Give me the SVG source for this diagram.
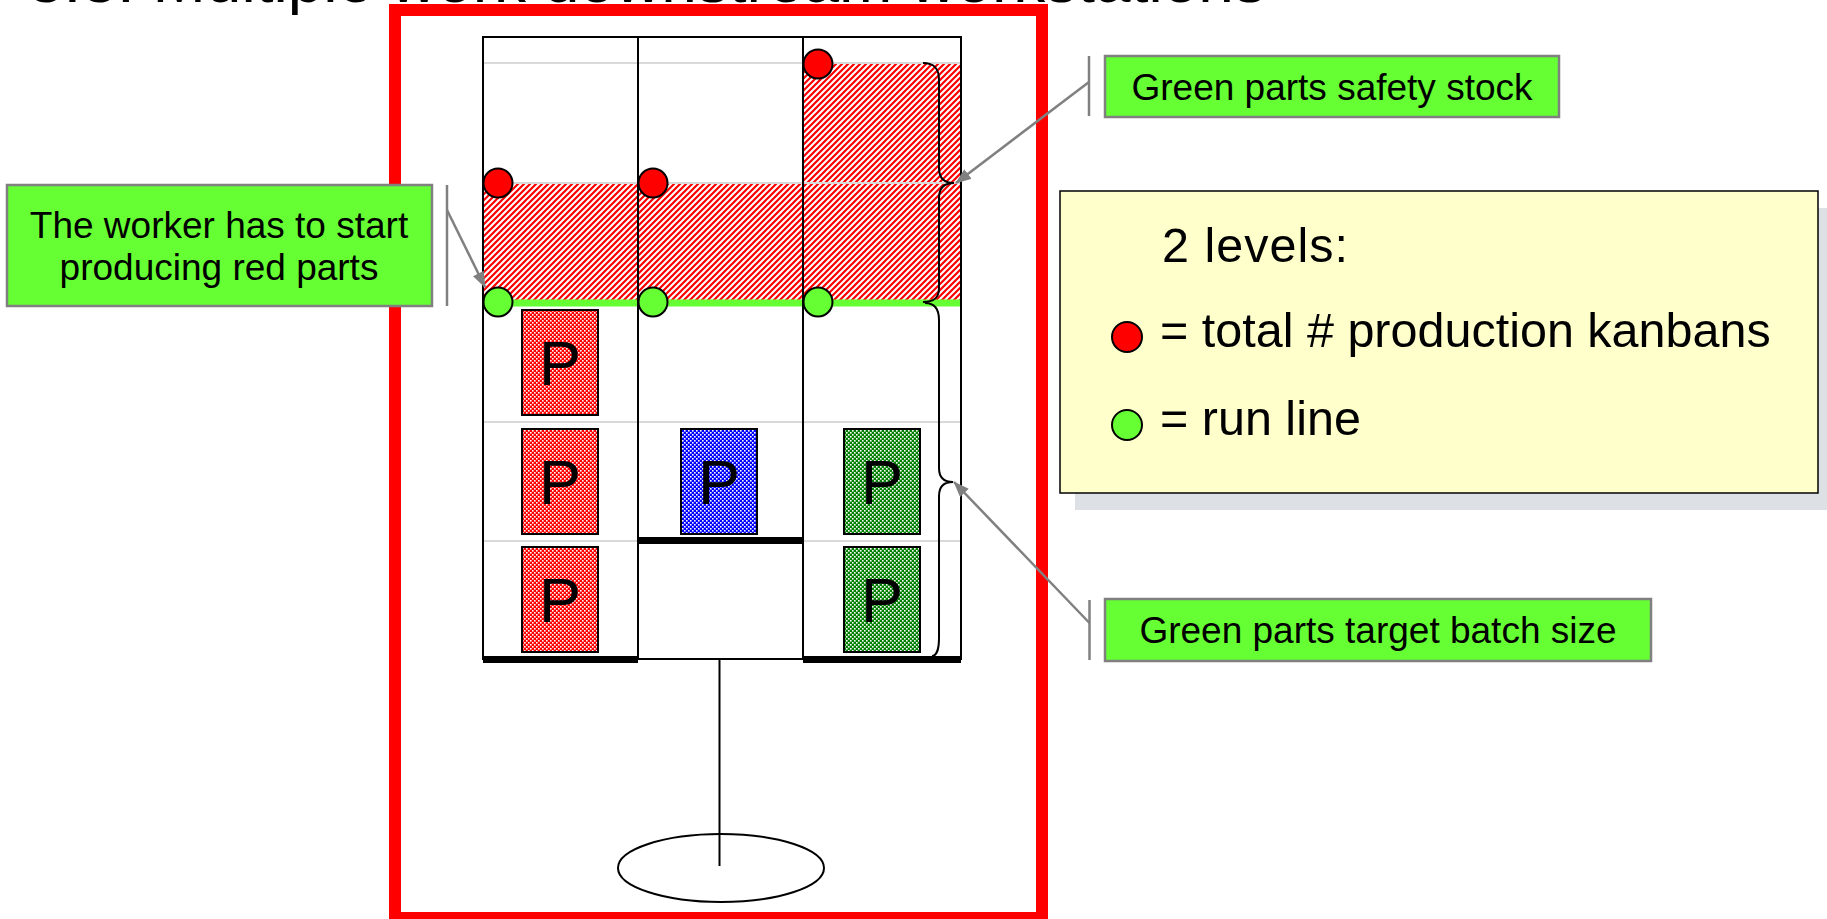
<svg xmlns="http://www.w3.org/2000/svg" width="1827" height="919" viewBox="0 0 1827 919">
  <style>
    .txt { font-family: "Liberation Sans", Arial, sans-serif; fill: #000; }
    .call { fill: #66FF33; stroke: #808080; stroke-width: 2.5; }
    .bar { stroke: #808080; stroke-width: 2.5; fill: none; }
    .conn { stroke: #808080; stroke-width: 2.5; fill: none; marker-end: url(#arrow); }
    .col { fill: none; stroke: #000; stroke-width: 2; }
    .row { stroke: #D9D9D9; stroke-width: 2; }
    .shelf { fill: #000; }
    .dotR { fill: #FF0000; stroke: #000; stroke-width: 2; }
    .dotG { fill: #66FF33; stroke: #000; stroke-width: 2; }
    .part { stroke: #000; stroke-width: 2; }
    .ptxt { font-family: "Liberation Sans", Arial, sans-serif; font-size: 63px; text-anchor: middle; fill: #000; }
    .brace { fill: none; stroke: #000; stroke-width: 2; }
    .leg { font-family: "Liberation Sans", Arial, sans-serif; font-size: 48.5px; fill: #000; }
  </style>
  <defs>
    <pattern id="hatchRed" patternUnits="userSpaceOnUse" width="6" height="6">
      <rect width="6" height="6" fill="#fff"/>
      <path d="M-1,7 L7,-1 M-4,4 L4,-4 M2,10 L10,2" stroke="#FF0000" stroke-width="2.2"/>
    </pattern>
    <!-- fine checkerboards for the part cards -->
    <pattern id="checkRed" patternUnits="userSpaceOnUse" width="4" height="4">
      <rect width="4" height="4" fill="#FF0000"/>
      <rect x="2" y="0" width="1.6" height="1.6" fill="#fff"/>
      <rect x="0" y="2" width="1.6" height="1.6" fill="#fff"/>
    </pattern>
    <pattern id="checkBlue" patternUnits="userSpaceOnUse" width="4" height="4">
      <rect width="4" height="4" fill="#0000FF"/>
      <rect x="2" y="0" width="1.6" height="1.6" fill="#fff"/>
      <rect x="0" y="2" width="1.6" height="1.6" fill="#fff"/>
    </pattern>
    <pattern id="checkGreen" patternUnits="userSpaceOnUse" width="4" height="4">
      <rect width="4" height="4" fill="#008000"/>
      <rect x="2" y="0" width="1.6" height="1.6" fill="#fff"/>
      <rect x="0" y="2" width="1.6" height="1.6" fill="#fff"/>
    </pattern>
    <marker id="arrow" markerUnits="userSpaceOnUse" markerWidth="16" markerHeight="12" refX="15" refY="6" orient="auto">
      <path d="M0,0 L16,6 L0,12 z" fill="#808080"/>
    </marker>
  </defs>

  <rect width="1827" height="919" fill="#fff"/>

  <!-- slide title, mostly above the top edge -->
  <text class="txt" x="28" y="2" font-size="64">3.3. Multiple work downstream workstations</text>

  <!-- supermarket rack frame -->
  <g id="frame">
    <rect x="395" y="10" width="647" height="908" fill="none" stroke="#FF0000" stroke-width="12"/>
  </g>

  <g id="rack">
    <!-- red zones above the run line -->
    <rect x="483" y="183" width="320" height="117" fill="url(#hatchRed)"/>
    <rect x="803" y="63" width="158" height="237" fill="url(#hatchRed)"/>
    <!-- shelf rows -->
    <line class="row" x1="483" y1="63" x2="961" y2="63"/>
    <line class="row" x1="483" y1="183" x2="961" y2="183"/>
    <line class="row" x1="483" y1="422" x2="961" y2="422"/>
    <line class="row" x1="483" y1="541" x2="961" y2="541"/>
    <!-- run line -->
    <rect x="483" y="299.5" width="478" height="7" fill="#66FF33"/>
    <!-- columns -->
    <rect class="col" x="483" y="37" width="155" height="622"/>
    <rect class="col" x="638" y="37" width="165" height="622"/>
    <rect class="col" x="803" y="37" width="158" height="622"/>
    <!-- stock floors -->
    <rect class="shelf" x="483" y="656" width="155" height="7"/>
    <rect class="shelf" x="638" y="537" width="165" height="7"/>
    <rect class="shelf" x="803" y="656" width="158" height="7"/>
  </g>

  <g id="parts">
    <rect class="part" x="522" y="310" width="76" height="105" fill="url(#checkRed)"/>
    <text class="ptxt" x="560" y="385">P</text>
    <rect class="part" x="522" y="429" width="76" height="105" fill="url(#checkRed)"/>
    <text class="ptxt" x="560" y="504">P</text>
    <rect class="part" x="522" y="547" width="76" height="105" fill="url(#checkRed)"/>
    <text class="ptxt" x="560" y="622">P</text>
    <rect class="part" x="681" y="429" width="76" height="105" fill="url(#checkBlue)"/>
    <text class="ptxt" x="719" y="504">P</text>
    <rect class="part" x="844" y="429" width="76" height="105" fill="url(#checkGreen)"/>
    <text class="ptxt" x="882" y="504">P</text>
    <rect class="part" x="844" y="547" width="76" height="105" fill="url(#checkGreen)"/>
    <text class="ptxt" x="882" y="622">P</text>
  </g>

  <g id="levels">
    <circle class="dotR" cx="498" cy="183" r="14.5"/>
    <circle class="dotR" cx="653" cy="183" r="14.5"/>
    <circle class="dotR" cx="818" cy="64" r="14.5"/>
    <circle class="dotG" cx="498" cy="302" r="14.5"/>
    <circle class="dotG" cx="653" cy="302" r="14.5"/>
    <circle class="dotG" cx="818" cy="302" r="14.5"/>
  </g>

  <g id="braces">
    <path class="brace" d="M923,63 C934,63 939,68 939,80 L939,168 C939,178 944,183 954,183 C944,183 939,188 939,198 L939,288 C939,298 934,302 923,302"/>
    <path class="brace" d="M925,303 C934,303 939,308 939,320 L939,468 C939,477 944,482 953,482 C944,482 939,487 939,496 L939,638 C939,650 936,656 932,656"/>
  </g>

  <g id="stand">
    <ellipse cx="721" cy="868" rx="103" ry="34" fill="none" stroke="#000" stroke-width="2"/>
    <line x1="719.5" y1="660" x2="719.5" y2="866" stroke="#000" stroke-width="2"/>
  </g>

  <g id="legend">
    <rect x="1075" y="208" width="758" height="302" fill="#DDE1E5"/>
    <rect x="1060" y="191" width="758" height="302" fill="#FFFFCC" stroke="#000" stroke-width="1.5"/>
    <text class="leg" x="1162" y="262" letter-spacing="1">2 levels:</text>
    <circle class="dotR" cx="1127" cy="337" r="15"/>
    <text class="leg" x="1160" y="347">= total # production kanbans</text>
    <circle class="dotG" cx="1127" cy="425" r="15"/>
    <text class="leg" x="1160" y="435">= run line</text>
  </g>

  <g id="callout-worker">
    <rect class="call" x="7" y="185" width="425" height="121"/>
    <text class="txt" x="219" y="238" font-size="37" text-anchor="middle">The worker has to start</text>
    <text class="txt" x="219" y="280" font-size="37" text-anchor="middle">producing red parts</text>
    <line class="bar" x1="447" y1="185" x2="447" y2="306"/>
  </g>

  <g id="callout-safety">
    <rect class="call" x="1105" y="56" width="454" height="61"/>
    <text class="txt" x="1332" y="100" font-size="37" text-anchor="middle">Green parts safety stock</text>
    <line class="bar" x1="1089" y1="56" x2="1089" y2="116"/>
  </g>

  <g id="callout-batch">
    <rect class="call" x="1105" y="599" width="546" height="62"/>
    <text class="txt" x="1378" y="643" font-size="37" text-anchor="middle">Green parts target batch size</text>
    <line class="bar" x1="1089.5" y1="600" x2="1089.5" y2="660"/>
  </g>

  <g id="connectors">
    <line class="conn" x1="447" y1="210" x2="485" y2="287"/>
    <line class="conn" x1="1089" y1="82" x2="956" y2="183"/>
    <line class="conn" x1="1089.5" y1="623" x2="954" y2="482"/>
  </g>
</svg>
